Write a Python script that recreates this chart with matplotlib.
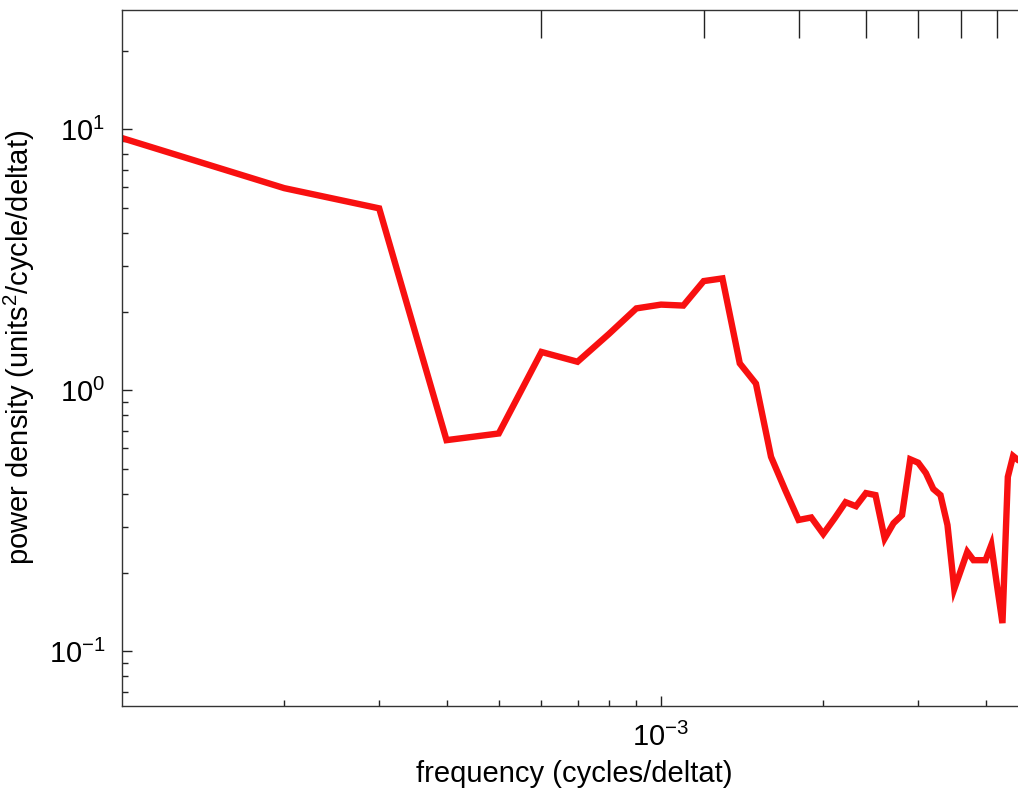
import matplotlib
matplotlib.use("Agg")
import matplotlib.pyplot as plt
from matplotlib.ticker import NullFormatter, LogLocator

plt.rcParams['font.family'] = ['Liberation Sans', 'DejaVu Sans']
plt.rcParams['mathtext.fontset'] = 'custom'
plt.rcParams['mathtext.rm'] = 'Liberation Sans'
plt.rcParams['mathtext.it'] = 'Liberation Sans:italic'

# spectral estimate, frequencies k * df (cycles/deltat)
df = 1e-4
harmonic = list(range(1, 48))
power = [9.24, 5.94, 4.97, 0.643, 0.682, 1.40, 1.284, 1.639, 2.056, 2.126,
         2.108, 2.616, 2.679, 1.266, 1.059, 0.555, 0.414, 0.318, 0.325, 0.281,
         0.323, 0.372, 0.359, 0.403, 0.396, 0.270, 0.309, 0.332, 0.543, 0.527,
         0.481, 0.418, 0.396, 0.304, 0.173, 0.204, 0.240, 0.223, 0.223, 0.223,
         0.255, 0.179, 0.128, 0.465, 0.559, 0.539, 0.530]
freq = [k * df for k in harmonic]

# long marks along the top edge
top_marks = [6e-4 * k for k in range(1, 8)]

fig = plt.figure(figsize=(10.18, 7.92), dpi=100)
ax = fig.add_axes([122 / 1018, 86 / 792, 904 / 1018, 696 / 792])

ax.plot(freq, power, color='#f81010', lw=4.6, solid_joinstyle='miter')
ax.set_xscale('log')
ax.set_yscale('log')
ax.set_xlim(1e-4, 4.755e-3)
ax.set_ylim(0.0616, 28.6)

ax.set_xticks([1e-3])
ax.xaxis.set_minor_locator(LogLocator(base=10, subs=range(2, 10)))
ax.xaxis.set_minor_formatter(NullFormatter())
ax.yaxis.set_minor_formatter(NullFormatter())

ax.tick_params(which='both', direction='in', top=False, right=False,
               labelsize=21, width=1.0, color='#222222')
ax.tick_params(which='major', length=7)
ax.tick_params(which='minor', length=4)
ax.tick_params(axis='y', pad=12)
ax.tick_params(axis='x', pad=12)

for side in ['left', 'bottom', 'top']:
    ax.spines[side].set_linewidth(1.0)
    ax.spines[side].set_color('#333333')
ax.spines['right'].set_visible(False)

ax.set_xlabel('frequency (cycles/deltat)', fontsize=21, labelpad=6)
ax.set_ylabel('power density (units$^2$/cycle/deltat)', fontsize=21,
              labelpad=8, y=0.515)

top = ax.twiny()
top.set_xscale('log')
top.set_xlim(ax.get_xlim())
top.set_xticks(top_marks)
top.xaxis.set_minor_locator(plt.NullLocator())
top.tick_params(axis='x', direction='in', length=20, width=1.0, color='#222222',
                labeltop=False, bottom=False, labelbottom=False)
for s in top.spines.values():
    s.set_visible(False)

fig.savefig('out.png', dpi=100)
